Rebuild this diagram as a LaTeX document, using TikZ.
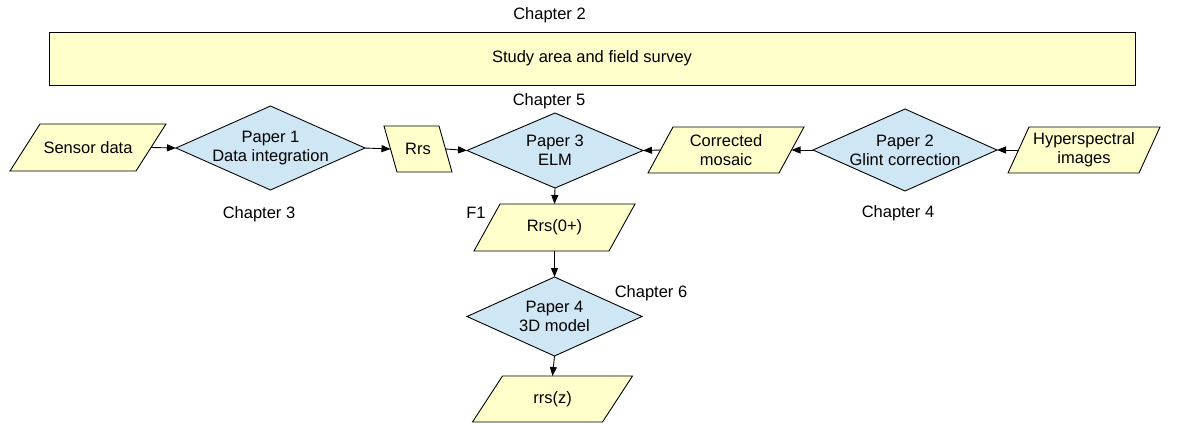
\documentclass[tikz,border=0pt]{standalone}
\usepackage{fontspec}
\setmainfont{Liberation Sans}
\usetikzlibrary{shapes.geometric,arrows.meta}
\definecolor{ioyellow}{HTML}{FFFFCC}
\definecolor{paperblue}{HTML}{CFE7F5}
\tikzset{
  iobox/.style={draw=black, fill=ioyellow, line width=0.9pt, line join=miter},
  iotext/.style={draw=none, inner sep=0pt, outer sep=0pt, align=center},
  paper/.style={shape=diamond, draw=black, fill=paperblue, line width=0.9pt,
    inner sep=0pt, outer sep=0pt},
  lbl/.style={inner sep=0pt, align=center},
  arr/.style={draw=black, line width=0.9pt, -{Triangle[length=9pt,width=7pt]}},
}
% parallelogram data box: name, x, y, middle width, height, top shift, text
\newcommand\iobox[7]{%
  \filldraw[iobox] ({#2-#4/2-#6/2},{#3+#5/2}) -- ({#2+#4/2-#6/2},{#3+#5/2})
    -- ({#2+#4/2+#6/2},{#3-#5/2}) -- ({#2-#4/2+#6/2},{#3-#5/2}) -- cycle;
  \node[iotext, minimum width=#4, minimum height=#5] (#1) at (#2,#3) {#7};}
% diamond process box: name, x, y, width, height, text
\newcommand\paperbox[6]{%
  \node[paper, minimum width=#4, minimum height=#5] (#1) at (#2,#3) {};
  \node[lbl] at (#1) {#6};}
\begin{document}
\begin{tikzpicture}[x=1pt, y=-1pt, font=\fontsize{16.5}{19}\selectfont]
\useasboundingbox (0,0) rectangle (1177,423);

% survey band
\node[draw=black, fill=ioyellow, line width=0.9pt, minimum width=1086, minimum height=53,
  inner sep=0pt, outer sep=0pt] (survey) at (592,58.5) {Study area and field survey};
\node[lbl] (ch2) at (549.5,15) {Chapter 2};

% upper row
\iobox{sensor}{88}{147.5}{126}{47}{30}{Sensor data}
\paperbox{p1}{270.5}{148}{189}{84}{Paper 1\\Data integration}
\iobox{rrs}{418}{149}{55}{46}{-13}{Rrs}
\paperbox{p3}{555}{150.5}{176}{75}{Paper 3\\ELM}
\iobox{mosaic}{726}{150}{131}{46}{25}{Corrected\\mosaic}
\paperbox{p2}{905}{150}{184}{82}{Paper 2\\Glint correction}
\iobox{hyper}{1084}{150}{131}{46}{21}{Hyperspectral\\images}

% lower column
\iobox{rrs0}{554.5}{227.5}{135}{47}{26}{Rrs(0+)}
\paperbox{p4}{554.5}{316.5}{175}{79}{Paper 4\\3D model}
\iobox{rrsz}{552.5}{399}{130}{46}{30}{rrs(z)}

% chapter labels
\node[lbl] (ch5) at (549,101) {Chapter 5};
\node[lbl] (ch3) at (259,214) {Chapter 3};
\node[lbl] (ch4) at (898,213) {Chapter 4};
\node[lbl] (f1) at (476,213) {F1};
\node[lbl] (ch6) at (651,293) {Chapter 6};

% connectors
\draw[arr] (sensor.east) -- (p1.west);
\draw[arr] (p1.east) -- (rrs.west);
\draw[arr] (rrs.east) -- (p3.west);
\draw[arr] (mosaic.west) -- (p3.east);
\draw[arr] (p2.west) -- (mosaic.east);
\draw[arr] (hyper.west) -- (p2.east);
\draw[arr] (p3.south) -- (rrs0.north);
\draw[arr] (rrs0.south) -- (p4.north);
\draw[arr] (p4.south) -- (rrsz.north);
\end{tikzpicture}
\end{document}
